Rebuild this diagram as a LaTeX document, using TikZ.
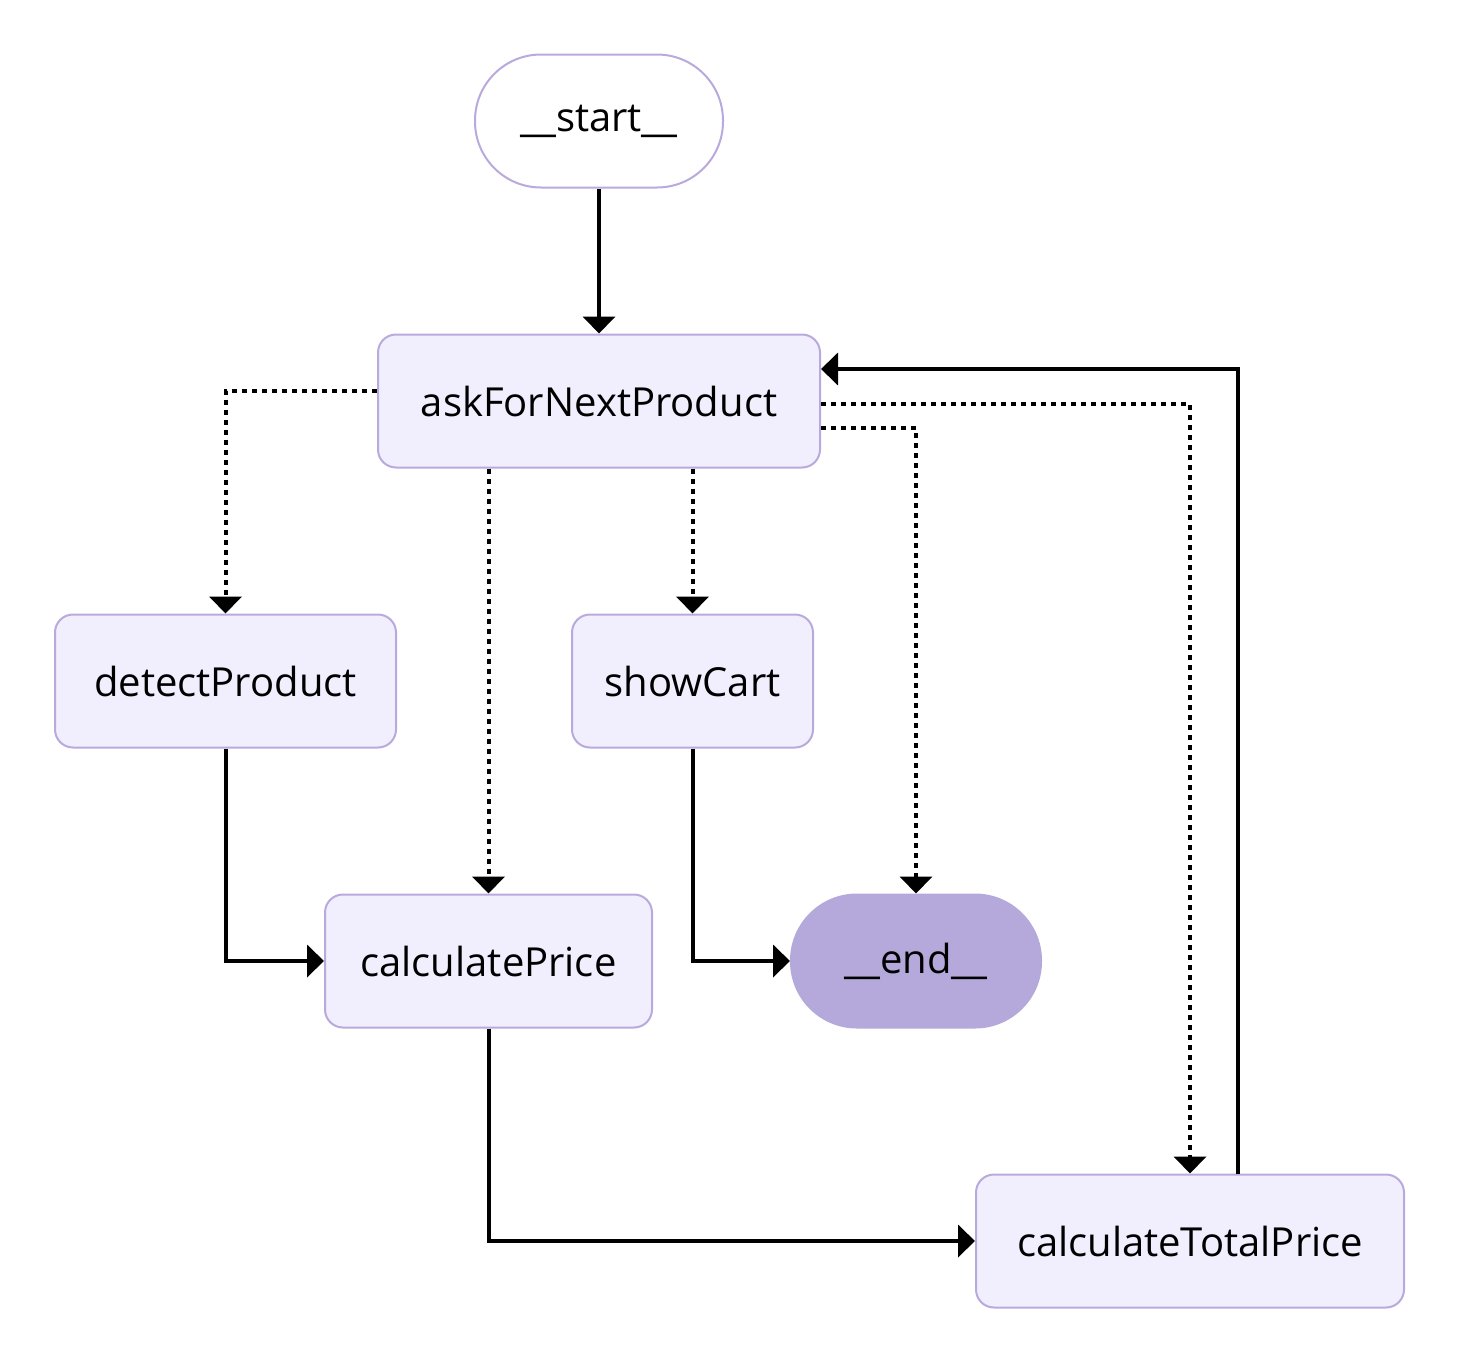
\documentclass[tikz,border=0pt]{standalone}
\usepackage{fontspec}
\setmainfont{Open Sans}
\usetikzlibrary{arrows.meta}
\definecolor{nfill}{HTML}{F1EFFD}
\definecolor{ndraw}{HTML}{B9A9DC}
\definecolor{efill}{HTML}{B5A8DA}
\begin{document}
\begin{tikzpicture}[x=1pt,y=-1pt,
  box/.style={draw=ndraw,fill=nfill,line width=2pt,rounded corners=18pt,minimum height=133pt,inner sep=0pt,font=\fontsize{40}{48}\selectfont},
  pill/.style={box,rounded corners=66pt},
  e/.style={line width=4pt,-{Triangle[width=32pt,length=17pt]}},
  d/.style={e,dash pattern=on 5pt off 5pt}]
\useasboundingbox (0,0) rectangle (1459,1363);
\node[pill,fill=white,minimum width=248pt] (start) at (599,121) {\_\_start\_\_};
\node[box,minimum width=442pt] (ask) at (599,401) {askForNextProduct};
\node[box,minimum width=341pt] (detect) at (225.5,681) {detectProduct};
\node[box,minimum width=241pt] (show) at (692.5,681) {showCart};
\node[box,minimum width=327pt] (calc) at (488.5,961) {calculatePrice};
\node[pill,fill=efill,draw=efill,minimum width=250pt] (end) at (916,961) {\_\_end\_\_};
\node[box,minimum width=428pt] (total) at (1190,1241) {calculateTotalPrice};
\draw[e] (start) -- (ask);
\draw[d] ([yshift=10pt]ask.west) -| (detect.north);
\draw[d] (ask.south -| calc.north) -- (calc.north);
\draw[d] (ask.south -| show.north) -- (show.north);
\draw[d] ([yshift=-27pt]ask.east) -| (end.north);
\draw[d] ([yshift=-3pt]ask.east) -| (total.north);
\draw[e] ([xshift=48pt]total.north) |- ([yshift=32pt]ask.east);
\draw[e] (detect.south) |- (calc.west);
\draw[e] (show.south) |- (end.west);
\draw[e] (calc.south) |- (total.west);
\end{tikzpicture}
\end{document}
